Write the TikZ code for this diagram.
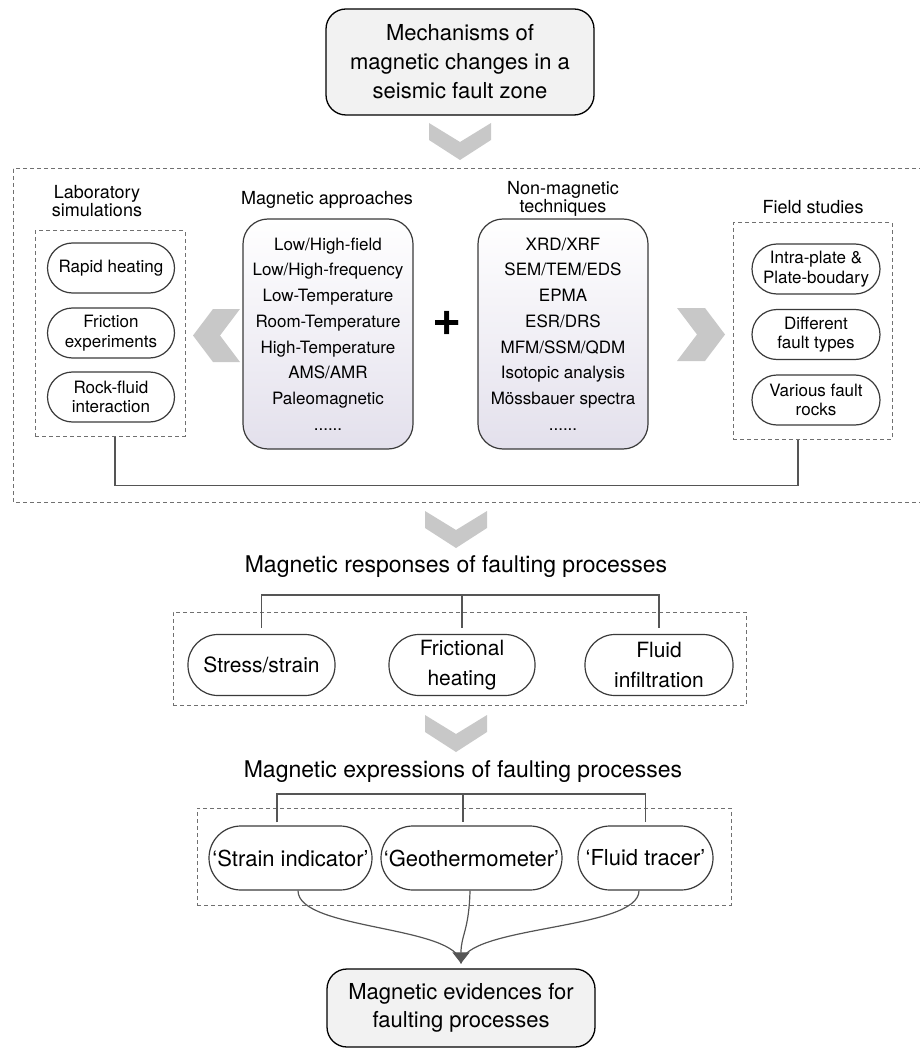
\documentclass[tikz,border=0pt]{standalone}
\usepackage{fontspec}
\setmainfont{TeX Gyre Heros}
\usetikzlibrary{arrows.meta,calc,shadings}
\definecolor{chev}{HTML}{C8C8C8}
\definecolor{boxfill}{HTML}{F2F2F2}
\definecolor{dashc}{HTML}{707070}
\definecolor{pillc}{HTML}{3A3A3A}
\definecolor{connc}{HTML}{555555}
\definecolor{magbot}{HTML}{E3E0EC}
\newcommand\myfs[2]{\fontsize{#1}{#2}\selectfont}
\begin{document}
\begin{tikzpicture}[x=1pt,y=-1pt,
  mainbox/.style={draw=black,line width=1.3pt,fill=boxfill,rounded corners=20pt,
    minimum width=268pt,inner sep=0pt,align=center,font=\myfs{22}{29}},
  dbox/.style={draw=dashc,line width=1pt,dash pattern=on 4pt off 3pt,inner sep=0pt},
  pill/.style={draw=pillc,line width=1.2pt,rounded corners=#1pt,inner sep=0pt,align=center},
  smallpill/.style={pill=25,minimum width=127pt,minimum height=50pt,font=\myfs{17}{19.5}},
  midpill/.style={pill=30,minimum height=61pt,font=\myfs{21}{30}},
  exppill/.style={pill=32,minimum height=64pt,font=\myfs{22}{27}},
  ttl/.style={align=center,inner sep=0pt,font=\myfs{18}{18.5}},
  bigttl/.style={align=center,inner sep=0pt,font=\myfs{23}{28}},
  magbox/.style={draw=pillc,line width=1.2pt,rounded corners=25pt,top color=white,
    bottom color=magbot,minimum width=170pt,minimum height=230pt,inner sep=0pt,
    align=center,font=\myfs{17}{25.7}},
  conn/.style={draw=connc,line width=1.2pt},
  chevfill/.style={fill=chev}
]
\useasboundingbox (0,0) rectangle (919,1048);

% top box
\node[mainbox,minimum height=106pt] (mech) at (460,62)
  {Mechanisms of\\magnetic changes in a\\seismic fault zone};

% chevron 1
\fill[chevfill] (429,123) -- (460,142) -- (491,123) -- (491,140) -- (460,160) -- (429,140) -- cycle;

% big dashed frame
\draw[dbox] (13,169) rectangle (940,502);

% laboratory simulations
\node[ttl] (labt) at (97,201) {Laboratory\\simulations};
\node[dbox,minimum width=150pt,minimum height=205pt] (lab) at (110,333.5) {};
\node[smallpill] (l1) at (111,268) {Rapid heating};
\node[smallpill] (l2) at (111,333) {Friction\\experiments};
\node[smallpill] (l3) at (111,397) {Rock-fluid\\interaction};

% left chevron
\fill[chevfill] (240,309) -- (220,335.5) -- (240,362) -- (213,362) -- (193,335.5) -- (213,309) -- cycle;

% magnetic approaches
\node[ttl] (magt) at (327,200) {Magnetic approaches};
\node[magbox] (mag) at (328,334) {Low/High-field\\Low/High-frequency\\Low-Temperature\\Room-Temperature\\High-Temperature\\AMS/AMR\\Paleomagnetic\\......};

% plus
\node[inner sep=0pt,font=\myfs{50}{50}\bfseries] (plus) at (447,323) {+};

% non-magnetic techniques
\node[ttl] (nmt) at (563,199) {Non-magnetic\\techniques};
\node[magbox] (nm) at (563,334) {XRD/XRF\\SEM/TEM/EDS\\EPMA\\ESR/DRS\\MFM/SSM/QDM\\Isotopic analysis\\Mössbauer spectra\\......};

% right chevron
\fill[chevfill] (677,308) -- (697,334.5) -- (677,361) -- (705,361) -- (725,334.5) -- (705,308) -- cycle;

% field studies
\node[ttl] (fldt) at (813,207) {Field studies};
\node[dbox,minimum width=159pt,minimum height=216pt] (field) at (812.5,331) {};
\node[smallpill,minimum width=128pt] (f1) at (816,269) {Intra-plate \&\\Plate-boudary};
\node[smallpill,minimum width=128pt] (f2) at (816,334.5) {Different\\fault types};
\node[smallpill,minimum width=128pt] (f3) at (816,400) {Various fault\\rocks};

% connector lab -> field
\draw[conn] ([xshift=5pt]lab.south) -- ++(0,49) -| ([xshift=-14.5pt]field.south);

% chevron 2
\fill[chevfill] (425,511) -- (456,530) -- (487,511) -- (487,528) -- (456,548) -- (425,528) -- cycle;

% responses
\node[bigttl] (resp) at (456,567) {Magnetic responses of faulting processes};
\node[dbox,minimum width=573pt,minimum height=93pt] (rbox) at (459.5,658.5) {};
\node[midpill,minimum width=147pt] (r1) at (261.5,665) {Stress/strain};
\node[midpill,minimum width=146pt] (r2) at (462,665) {Frictional\\heating};
\node[midpill,minimum width=148pt] (r3) at (659,665) {Fluid\\infiltration};
\coordinate (rh) at (462,595);
\draw[conn] ([yshift=6pt]r1.north) -- (r1.north |- rh) -- (r3.north |- rh) -- ([yshift=6pt]r3.north);
\draw[conn] (rh) -- ([yshift=6pt]r2.north);

% chevron 3
\fill[chevfill] (425,715) -- (456,734) -- (487,715) -- (487,732) -- (456,752) -- (425,732) -- cycle;

% expressions
\node[bigttl] (expr) at (463,772) {Magnetic expressions of faulting processes};
\node[dbox,minimum width=534pt,minimum height=97pt] (ebox) at (464,856.5) {};
\node[exppill,minimum width=163pt] (e1) at (290.5,858) {‘Strain indicator’};
\node[exppill,minimum width=181pt] (e2) at (471.5,858) {‘Geothermometer’};
\node[exppill,minimum width=135pt] (e3) at (645.5,858) {‘Fluid tracer’};
\coordinate (eh) at (463,794);
\draw[conn] ([xshift=-13.5pt,yshift=3pt]e1.north) -- ([xshift=-13.5pt]e1.north |- eh) -- (e3.north |- eh) -- ([yshift=3pt]e3.north);
\draw[conn] (eh) -- ([xshift=-8.5pt,yshift=3pt]e2.north);

% bottom box
\node[mainbox,minimum height=78pt,font=\myfs{22}{28}] (evid) at (461,1008)
  {Magnetic evidences for\\faulting processes};

% converging curves
\coordinate (tip) at ([yshift=5pt]evid.north);
\draw[conn] ([xshift=7.5pt]e1.south) .. controls +(0,40) and (458,925) .. (tip);
\draw[conn] ([xshift=-6.5pt]e3.south) .. controls +(0,40) and (464,925) .. (tip);
\draw[conn,-{Triangle[width=17pt,length=11pt]}] ([xshift=-1.5pt]e2.south) .. controls +(-1,40) and (461,935) .. (tip);
\end{tikzpicture}
\end{document}
